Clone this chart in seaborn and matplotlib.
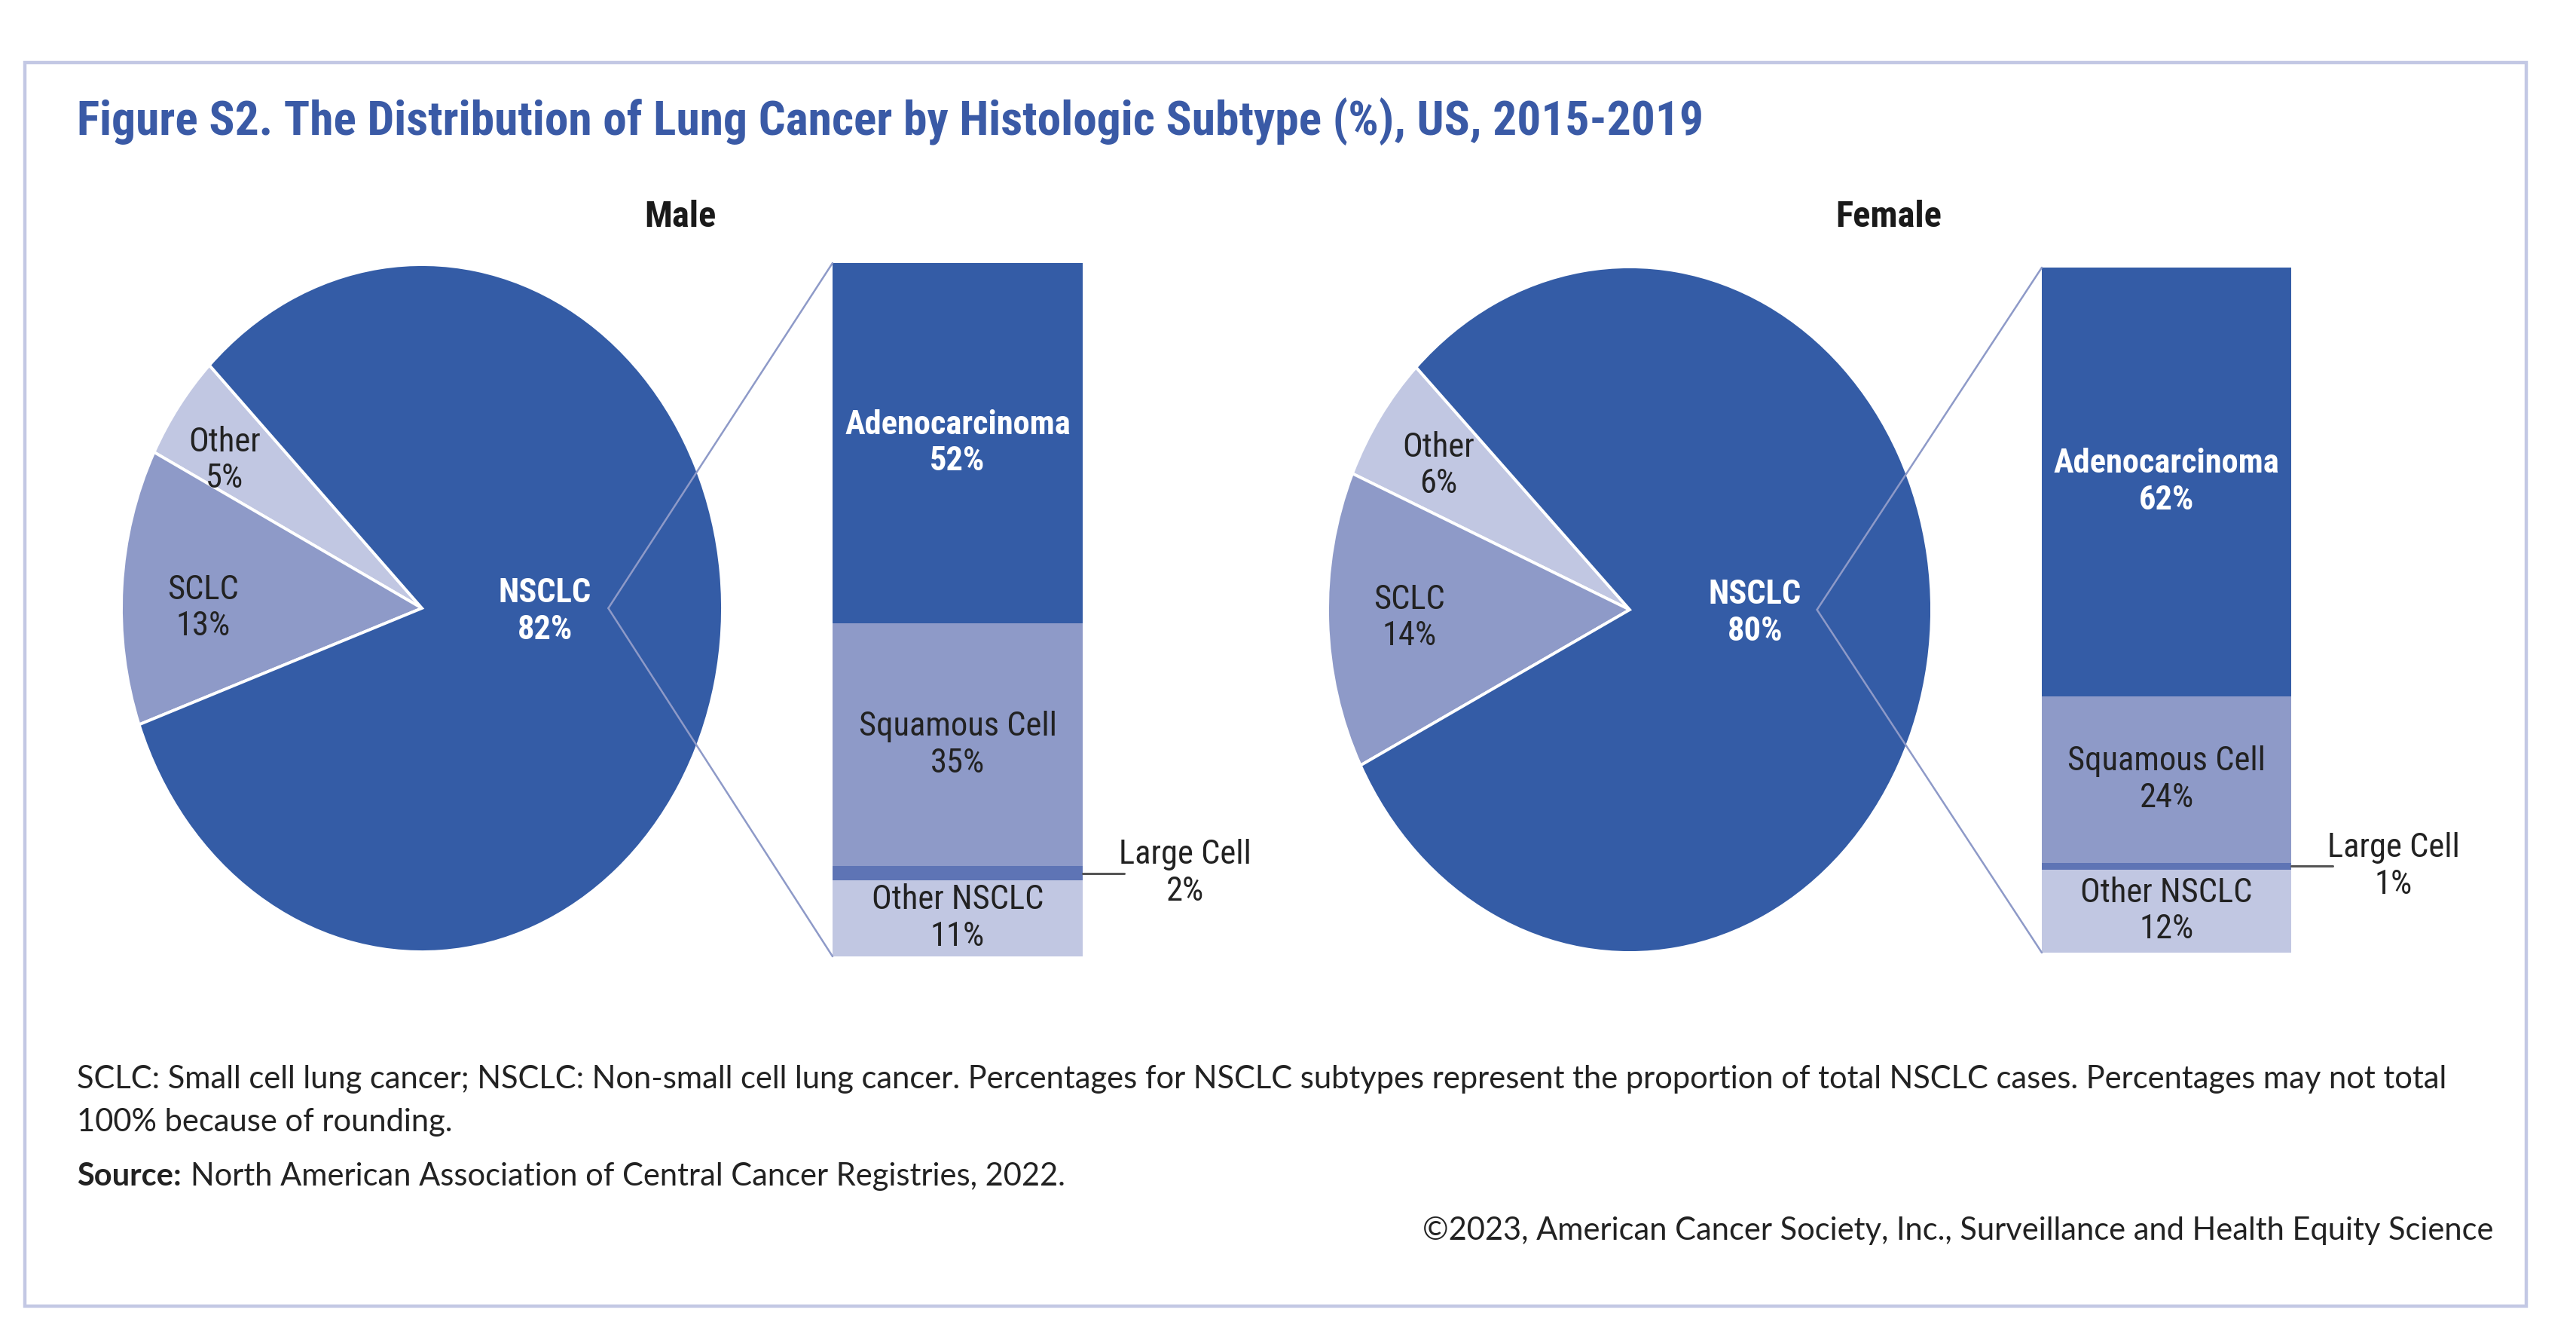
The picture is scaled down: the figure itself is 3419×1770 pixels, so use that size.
import matplotlib
matplotlib.use("Agg")
import matplotlib.pyplot as plt
import seaborn as sns
from matplotlib import font_manager as fm
from matplotlib.patches import ConnectionPatch, Rectangle

# data
pie_labels = ["Other", "SCLC", "NSCLC"]
male_pie = [5, 13, 82]
female_pie = [6, 14, 80]

bar_labels = ["Other NSCLC", "Large Cell", "Squamous Cell", "Adenocarcinoma"]
male_bar = [11, 2, 35, 52]
female_bar = [12, 1, 24, 62]

panel_titles = ["Male", "Female"]

# styling
sns.set_theme(style="white")
BODY = ["Lato", "DejaVu Sans"]
plt.rcParams["font.family"] = BODY


def as_weight(w):
    if isinstance(w, str):
        return fm.weight_dict.get(w, 400)
    return w


def narrow_font(bold):
    # look for an installed condensed / narrow face, fall back to plain sans
    want = 700 if bold else 400
    prefs = ["Roboto Condensed", "Liberation Sans Narrow", "Noto Sans", "DejaVu Sans",
             "Open Sans", "Roboto", "Inter"]
    for fam in prefs:
        for f in fm.fontManager.ttflist:
            narrow = (f.stretch in ("condensed", "semi-condensed", "extra-condensed")
                      or "Condensed" in f.name or "Narrow" in f.name)
            if f.name.startswith(fam.split()[0]) and narrow and f.style == "normal" \
                    and as_weight(f.weight) == want:
                return fm.FontProperties(fname=f.fname)
    return fm.FontProperties(family="DejaVu Sans", weight="bold" if bold else "normal")


NR = narrow_font(False)
NB = narrow_font(True)


def fp(base, size):
    p = base.copy()
    p.set_size(size)
    return p


DARK = "#345ca6"
MID = "#8e9ac8"
LIGHT = "#c1c7e2"
LARGE = "#5e74b5"
pie_colors = [LIGHT, MID, DARK]
bar_colors = [LIGHT, LARGE, MID, DARK]
LS = 1.2

W, H = 3419, 1770
fig = plt.figure(figsize=(W / 200, H / 200), dpi=200)


def box(x0, y0, x1, y1):
    return [x0 / W, 1 - y1 / H, (x1 - x0) / W, (y1 - y0) / H]


def fx(x):
    return x / W


def fy(y):
    return 1 - y / H


# frame
fig.patches.append(Rectangle((fx(33), fy(1733)), fx(3353) - fx(33), fy(83) - fy(1733),
                             transform=fig.transFigure, fill=False,
                             edgecolor="#c3c8e4", lw=1.6))

fig.text(fx(102), fy(179), "Figure S2. The Distribution of Lung Cancer by Histologic Subtype (%), US, 2015-2019",
         fontproperties=fp(NB, 22.8), color="#3a5aa6", va="baseline", ha="left")

panels = [
    dict(title_x=903, pie_box=(161, 351, 959, 1263), bar_box=(1105, 349, 1437, 1269),
         pie=male_pie, bar=male_bar,
         pie_text=[(-0.656, 0.43), (-0.727, 0.0), (0.41, -0.01)]),
    dict(title_x=2507, pie_box=(1762, 354, 2564, 1264), bar_box=(2710, 355, 3041, 1264),
         pie=female_pie, bar=female_bar,
         pie_text=[(-0.634, 0.42), (-0.73, -0.024), (0.415, -0.01)]),
]

for title, p in zip(panel_titles, panels):
    fig.text(fx(p["title_x"]), fy(288), title, fontproperties=fp(NB, 17.5),
             color="#1a1a1a", ha="center", va="center")

    # pie
    axp = fig.add_axes(box(*p["pie_box"]))
    axp.pie(p["pie"], colors=pie_colors, startangle=135, counterclock=True,
            radius=1, wedgeprops=dict(edgecolor="white", linewidth=1.4))
    axp.set_aspect("auto")
    axp.set_xlim(-1, 1)
    axp.set_ylim(-1, 1)
    axp.axis("off")
    for lab, val, (tx, ty) in zip(pie_labels, p["pie"], p["pie_text"]):
        is_main = lab == "NSCLC"
        axp.text(tx, ty, f"{lab}\n{val}%", ha="center", va="center",
                 fontproperties=fp(NB if is_main else NR, 16),
                 color="white" if is_main else "#222222", linespacing=LS)

    # stacked bar
    axb = fig.add_axes(box(*p["bar_box"]))
    total = sum(p["bar"])
    bottom = 0
    for lab, val, col in zip(bar_labels, p["bar"], bar_colors):
        axb.bar(0, val, bottom=bottom, width=1, color=col, edgecolor="none")
        mid = bottom + val / 2
        if lab == "Large Cell":
            axb.plot([0.5, 0.665], [mid, mid], color="#555555", lw=1.1, clip_on=False)
            axb.text(0.91, mid, f"{lab}\n{val}%", ha="center", va="center",
                     fontproperties=fp(NR, 16),
                     color="#222222", linespacing=LS, clip_on=False)
        else:
            is_main = lab == "Adenocarcinoma"
            axb.text(0, mid, f"{lab}\n{val}%", ha="center", va="center",
                     fontproperties=fp(NB if is_main else NR, 16),
                     color="white" if is_main else "#222222", linespacing=LS)
        bottom += val
    axb.set_xlim(-0.5, 0.5)
    axb.set_ylim(0, total)
    axb.axis("off")

    # connector lines from pie to bar
    for yb in (total, 0):
        con = ConnectionPatch(xyA=(0.62, 0), coordsA=axp.transData,
                              xyB=(-0.5, yb), coordsB=axb.transData,
                              color=MID, lw=0.9)
        fig.add_artist(con)

# footnotes
FS = 15
fig.text(fx(102), fy(1432),
         "SCLC: Small cell lung cancer; NSCLC: Non-small cell lung cancer. Percentages for NSCLC subtypes "
         "represent the proportion of total NSCLC cases. Percentages may not total",
         fontsize=FS, family=BODY, color="#222222", va="center", ha="left")
fig.text(fx(102), fy(1489), "100% because of rounding.",
         fontsize=FS, family=BODY, color="#222222", va="center", ha="left")
src = fig.text(fx(102), fy(1561), "Source:", fontsize=FS, family=BODY, fontweight="bold",
               color="#222222", va="center", ha="left")
fig.canvas.draw()
bb = src.get_window_extent()
fig.text((bb.x1 + 12) / W, fy(1561),
         "North American Association of Central Cancer Registries, 2022.",
         fontsize=FS, family=BODY, color="#222222", va="center", ha="left")
fig.text(fx(3310), fy(1633),
         "\u00a92023, American Cancer Society, Inc., Surveillance and Health Equity Science",
         fontsize=FS, family=BODY, color="#222222", va="center", ha="right")

fig.savefig("out.png", dpi=200, facecolor="white")
